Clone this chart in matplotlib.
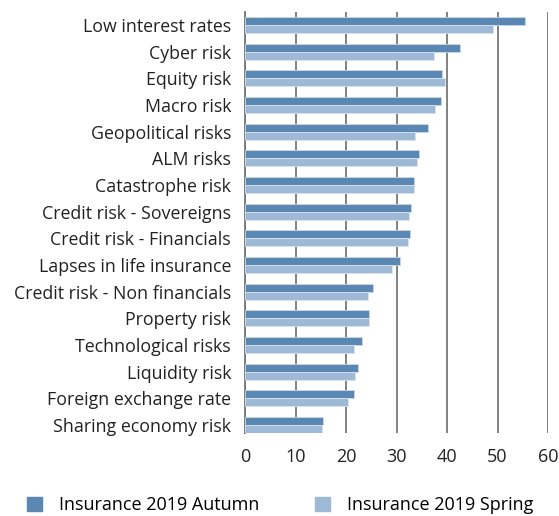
import numpy as np
import matplotlib.pyplot as plt
from matplotlib.patches import Patch

categories = [
    "Low interest rates", "Cyber risk", "Equity risk", "Macro risk",
    "Geopolitical risks", "ALM risks", "Catastrophe risk",
    "Credit risk - Sovereigns", "Credit risk - Financials",
    "Lapses in life insurance", "Credit risk - Non financials",
    "Property risk", "Technological risks", "Liquidity risk",
    "Foreign exchange rate", "Sharing economy risk",
]
autumn = [55.5, 42.5, 39.1, 38.9, 36.2, 34.5, 33.4, 32.9, 32.7, 30.6,
          25.4, 24.5, 23.1, 22.3, 21.5, 15.4]
spring = [49.1, 37.4, 39.6, 37.7, 33.6, 34.1, 33.4, 32.5, 32.3, 29.1,
          24.3, 24.5, 21.5, 21.8, 20.3, 15.2]
xticks = [0, 10, 20, 30, 40, 50, 60]

c_autumn = "#5b87b3"
c_spring = "#9eb9d6"


def main():
    plt.rcParams["font.family"] = ["Open Sans", "DejaVu Sans"]

    fig = plt.figure(figsize=(5.59, 5.16), dpi=100)
    ax = fig.add_axes([245 / 559, 1 - 433 / 516, 303 / 559, 421 / 516])

    y = np.arange(len(categories))
    h = 0.3
    ax.barh(y - h / 2, autumn, height=h, color=c_autumn,
            edgecolor="#c9d8e8", linewidth=0.6, zorder=3)
    ax.barh(y + h / 2, spring, height=h, color=c_spring,
            edgecolor="#d8e4f0", linewidth=0.6, zorder=3)

    ax.set_xlim(0, 60)
    ax.set_ylim(len(categories) - 1 + 0.3, -0.49)
    ax.set_xticks(xticks)
    ax.set_xticklabels([str(t) for t in xticks], fontsize=13, color="#222222")
    ax.set_yticks(y)
    ax.set_yticklabels(categories, fontsize=12.8, color="#222222")
    ax.tick_params(axis="y", length=0, pad=10)
    ax.tick_params(axis="x", length=0, pad=11)

    ax.grid(axis="x", color="#777777", linewidth=1.3, zorder=1)
    for side in ["top", "right", "bottom"]:
        ax.spines[side].set_visible(False)
    ax.spines["left"].set_color("#777777")
    ax.spines["left"].set_linewidth(1.3)

    handles = [Patch(color=c_autumn, label="Insurance 2019 Autumn"),
               Patch(color=c_spring, label="Insurance 2019 Spring")]
    fig.legend(handles=handles, loc="lower left", bbox_to_anchor=(0.036, -0.011),
               ncol=2, frameon=False, fontsize=13, handlelength=0.83,
               handleheight=0.83, columnspacing=3.05, handletextpad=0.95,
               borderaxespad=0.0)

    fig.savefig("out.png", dpi=100)


if __name__ == "__main__":
    main()
